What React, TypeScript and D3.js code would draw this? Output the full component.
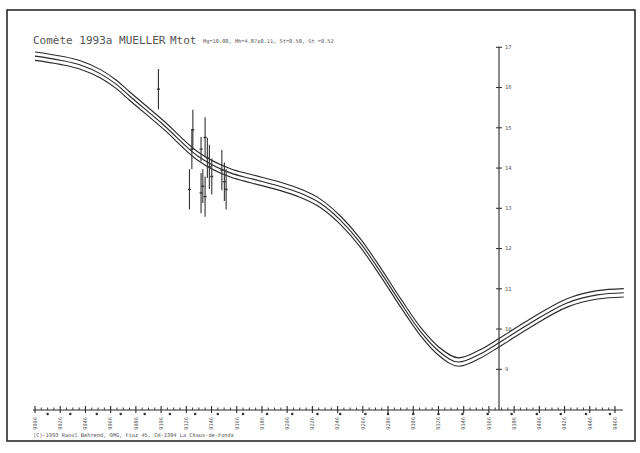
import React from "react";
import * as d3 from "d3";

// Dates are JD - 2440000
const tickDates = d3.range(0, 24).map((k) => 9006 + 20 * k);
const tickLabels = tickDates.map((d) => String(d));
const moonDates = [9016, 9034, 9055, 9074, 9093, 9113, 9133, 9151, 9171, 9190, 9210, 9230, 9248, 9268, 9286, 9306, 9326, 9345, 9365, 9384, 9404, 9423, 9443, 9462];
const magTicks = [9, 10, 11, 12, 13, 14, 15, 16, 17];

const curveDates = [9006, 9026, 9042, 9058, 9070, 9081, 9108, 9135, 9161, 9177, 9200, 9216, 9232, 9248, 9264, 9280, 9296, 9312, 9327, 9342, 9359, 9375, 9399, 9428, 9452, 9473];
const curveMags = [16.78, 16.68, 16.56, 16.34, 16.09, 15.79, 15.07, 14.3, 13.88, 13.74, 13.55, 13.38, 13.13, 12.71, 12.14, 11.42, 10.65, 9.93, 9.43, 9.18, 9.38, 9.68, 10.15, 10.65, 10.85, 10.9];
const bandOffset = 0.105;

const obsDates = [9103.9, 9131.2, 9130.4, 9128.5, 9137.7, 9137.7, 9139.1, 9140.9, 9140.9, 9142.7, 9144.3, 9146.2, 9154.2, 9156.2, 9157.6];
const obsMags = [15.96, 14.95, 14.47, 13.47, 14.47, 13.38, 13.55, 14.76, 13.29, 14.25, 14.03, 13.79, 13.95, 13.66, 13.47];
const obsErr = [0.5, 0.5, 0.5, 0.5, 0.3, 0.5, 0.42, 0.5, 0.5, 0.5, 0.55, 0.45, 0.5, 0.48, 0.5];

const axisDate = 9374;
const titleText = "Comète 1993a MUELLER";
const titleQty = "Mtot";
const paramText = "Mg=10.00, Mh=4.87±0.11, St=0.50, St =0.52";
const creditText = "(C)-1993 Raoul Behrend, OMG, Fiaz 45, CH-2304 La Chaux-de-Fonds";

export default function App() {
  const W = 640, H = 453;
  const x = d3.scaleLinear().domain([9006, 9466]).range([35, 615]);
  const y = d3.scaleLinear().domain([9, 17]).range([369.3, 47.3]);
  const axisY = 410;
  const ink = "#555";
  const mono = "'DejaVu Sans Mono', 'Liberation Mono', monospace";

  const line = (off: number) =>
    d3
      .line<number>()
      .x((_, i) => x(curveDates[i]))
      .y((m) => y(m + off))
      .curve(d3.curveMonotoneX)(curveMags) || "";

  const minorDates: number[] = [];
  for (let d = 9006; d < 9466; d += 5) if ((d - 9006) % 20 !== 0) minorDates.push(d);

  const ax = x(axisDate);

  return (
    <svg width={W} height={H} style={{ position: "absolute", left: 0, top: 0, background: "#fff" }}>
      <rect x={0} y={0} width={W} height={H} fill="#fff" />
      <rect x={7} y={10} width={628} height={431} fill="none" stroke="#2a2a2a" strokeWidth={1.6} />
      <text x={33} y={44} fontFamily={mono} fontSize={11} fill={ink}>{titleText}</text>
      <text x={170} y={44} fontFamily={mono} fontSize={11} fill={ink}>{titleQty}</text>
      <text x={203} y={43} fontFamily={mono} fontSize={5.3} fill={ink}>{paramText}</text>

      {[bandOffset, 0, -bandOffset].map((o, i) => (
        <path key={i} d={line(o)} fill="none" stroke="#2a2a2a" strokeWidth={1.1} />
      ))}

      {obsDates.map((d, i) => (
        <g key={i} stroke="#333" strokeWidth={1.1}>
          <line x1={x(d)} x2={x(d)} y1={y(obsMags[i] + obsErr[i])} y2={y(obsMags[i] - obsErr[i])} />
          <line x1={x(d) - 1.5} x2={x(d) + 1.5} y1={y(obsMags[i])} y2={y(obsMags[i])} strokeWidth={1.4} />
        </g>
      ))}

      {/* vertical magnitude axis */}
      <line x1={ax} x2={ax} y1={y(17) - 0.5} y2={axisY} stroke="#2a2a2a" strokeWidth={1.1} />
      {magTicks.map((m) => (
        <g key={m}>
          <line x1={ax - 3} x2={ax + 3} y1={y(m)} y2={y(m)} stroke="#2a2a2a" strokeWidth={1} />
          <text x={ax + 6} y={y(m) + 1.8} fontFamily={mono} fontSize={5.5} fill="#555">{m}</text>
        </g>
      ))}

      {/* time axis */}
      <line x1={33} x2={623} y1={axisY} y2={axisY} stroke="#2a2a2a" strokeWidth={1.2} />
      {tickDates.map((d, i) => (
        <g key={d}>
          <line x1={x(d)} x2={x(d)} y1={axisY - 4} y2={axisY + 3} stroke="#2a2a2a" strokeWidth={1.1} />
          <text
            transform={`translate(${x(d) + 1.8},${axisY + 7}) rotate(-90)`}
            textAnchor="end"
            fontFamily={mono}
            fontSize={5.3}
            fill="#555"
          >
            {tickLabels[i]}
          </text>
        </g>
      ))}
      {minorDates.map((d) => (
        <line key={d} x1={x(d)} x2={x(d)} y1={axisY - 2.5} y2={axisY} stroke="#2a2a2a" strokeWidth={0.9} />
      ))}
      {moonDates.map((d) => (
        <circle key={d} cx={x(d)} cy={axisY + 4} r={1.3} fill="#333" />
      ))}

      <text x={33} y={437} fontFamily={mono} fontSize={5.3} fill={ink}>{creditText}</text>
    </svg>
  );
}
